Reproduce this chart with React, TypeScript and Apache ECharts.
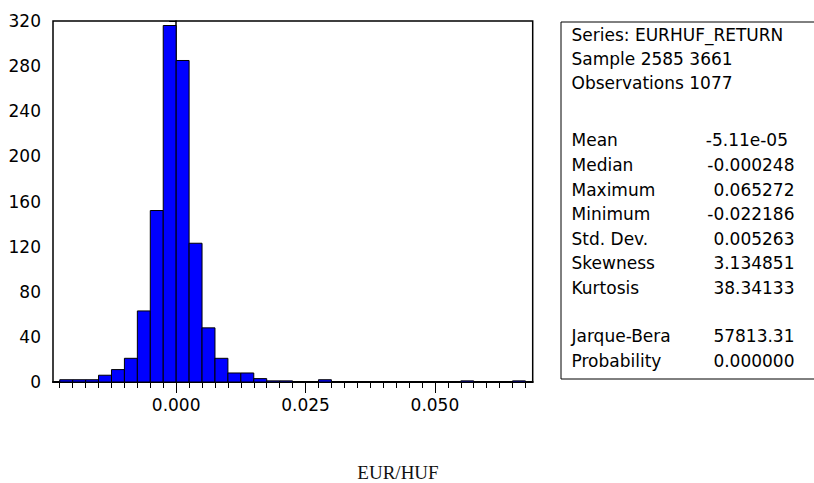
import React, { useEffect, useRef } from "react";
import * as echarts from "echarts";

// Histogram data (EViews-style)
const BIN_START = -0.0225;
const BIN_WIDTH = 0.0025;
const COUNTS = [
  2, 2, 2, 6, 11, 21, 63, 152, 316, 285, 123, 48, 21, 8, 8, 3, 1, 1, 0, 0, 2, 0,
  0, 0, 0, 0, 0, 0, 0, 0, 0, 1, 0, 0, 0, 1,
];
const X_MIN = -0.0238;
const X_MAX = 0.0689;
const X_MAJOR = [0, 0.025, 0.05];
const Y_MAX = 320;
const Y_STEP = 40;
const TITLE = "EUR/HUF";

const HEADER_LINES = ["Series: EURHUF_RETURN", "Sample 2585 3661", "Observations 1077"];
const STAT_NAMES = ["Mean", "Median", "Maximum", "Minimum", "Std. Dev.", "Skewness", "Kurtosis"];
const STAT_VALUES = ["-5.11e-05", "-0.000248", "0.065272", "-0.022186", "0.005263", "3.134851", "38.34133"];
const TEST_NAMES = ["Jarque-Bera", "Probability"];
const TEST_VALUES = ["57813.31", "0.000000"];

const FONT = "DejaVu Sans";

export default function App() {
  const ref = useRef<HTMLDivElement>(null);

  useEffect(() => {
    if (!ref.current) return;
    const chart = echarts.init(ref.current, null, { renderer: "svg" });

    const edges = COUNTS.map((_, i) => +(BIN_START + i * BIN_WIDTH).toFixed(6));
    edges.push(+(BIN_START + COUNTS.length * BIN_WIDTH).toFixed(6));
    const barData = COUNTS.map((c, i) => [edges[i], edges[i + 1], c]);

    const textStyle = { fontFamily: FONT, fontSize: 17, fill: "#000" };
    const graphics: any[] = [
      {
        type: "rect",
        shape: { x: 561, y: 22, width: 270, height: 357 },
        style: { fill: "#fff", stroke: "#000", lineWidth: 1 },
      },
    ];
    const headerY = [35, 59, 83];
    HEADER_LINES.forEach((t, i) => {
      graphics.push({
        type: "text",
        x: 571.5,
        y: headerY[i],
        style: { ...textStyle, text: t, verticalAlign: "middle" },
      });
    });
    STAT_NAMES.forEach((n, i) => {
      const y = 140.3 + i * 24.6;
      graphics.push({
        type: "text",
        x: 571.5,
        y,
        style: { ...textStyle, text: n, verticalAlign: "middle" },
      });
      graphics.push({
        type: "text",
        x: i === 0 ? 788 : 794.5,
        y,
        style: { ...textStyle, text: STAT_VALUES[i], align: "right", verticalAlign: "middle" },
      });
    });
    TEST_NAMES.forEach((n, i) => {
      const y = 336 + i * 24.6;
      graphics.push({
        type: "text",
        x: 571.5,
        y,
        style: { ...textStyle, text: n, verticalAlign: "middle" },
      });
      graphics.push({
        type: "text",
        x: 794.5,
        y,
        style: { ...textStyle, text: TEST_VALUES[i], align: "right", verticalAlign: "middle" },
      });
    });
    graphics.push({
      type: "text",
      x: 398,
      y: 472,
      style: {
        text: TITLE,
        fontFamily: "Liberation Serif",
        fontSize: 19,
        fill: "#111",
        align: "center",
        verticalAlign: "middle",
      },
    });

    chart.setOption({
      animation: false,
      backgroundColor: "#fff",
      grid: {
        left: 53,
        right: 281.3,
        top: 21,
        bottom: 101,
        show: true,
        borderColor: "#000",
        borderWidth: 1.5,
        backgroundColor: "#fff",
      },
      xAxis: [
        {
          type: "value",
          min: X_MIN,
          max: X_MAX,
          position: "bottom",
          axisLine: { show: true, onZero: false, lineStyle: { color: "#000", width: 2 } },
          axisTick: {
            show: true,
            customValues: edges,
            length: 6,
            lineStyle: { color: "#000", width: 1 },
          },
          axisLabel: { show: false },
          splitLine: { show: false },
        },
        {
          type: "value",
          min: X_MIN,
          max: X_MAX,
          position: "bottom",
          axisLine: { show: false },
          axisTick: {
            show: true,
            customValues: X_MAJOR,
            length: 11,
            lineStyle: { color: "#000", width: 1 },
          },
          axisLabel: {
            show: true,
            customValues: X_MAJOR,
            formatter: (v: number) => v.toFixed(3),
            fontFamily: FONT,
            fontSize: 17,
            color: "#000",
            margin: 14,
            showMinLabel: true,
            showMaxLabel: true,
          },
          splitLine: { show: false },
        },
      ],
      yAxis: {
        type: "value",
        min: 0,
        max: Y_MAX,
        interval: Y_STEP,
        axisLine: { show: true, lineStyle: { color: "#000", width: 1.5 } },
        axisTick: { show: true, length: 7, lineStyle: { color: "#000", width: 1 } },
        axisLabel: { fontFamily: FONT, fontSize: 17, color: "#000", margin: 12 },
        splitLine: { show: false },
      },
      series: [
        {
          type: "custom",
          xAxisIndex: 0,
          yAxisIndex: 0,
          data: barData,
          encode: { x: [0, 1], y: 2 },
          renderItem: (params: any, api: any) => {
            const x0 = api.value(0);
            const x1 = api.value(1);
            const c = api.value(2);
            if (!c) return null;
            const p0 = api.coord([x0, c]);
            const p1 = api.coord([x1, 0]);
            return {
              type: "rect",
              shape: { x: p0[0], y: p0[1], width: p1[0] - p0[0], height: p1[1] - p0[1] },
              style: { fill: "#0000ff", stroke: "#000", lineWidth: 1 },
            };
          },
        },
      ],
      graphic: graphics,
    });

    return () => chart.dispose();
  }, []);

  return (
    <div
      ref={ref}
      style={{ position: "absolute", left: 0, top: 0, width: 814, height: 483 }}
    />
  );
}
